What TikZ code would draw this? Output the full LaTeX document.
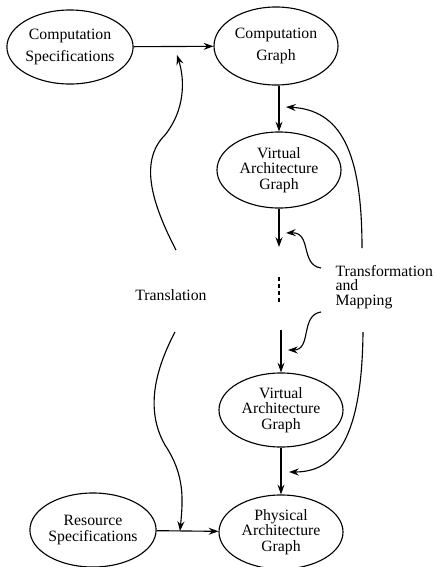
\documentclass[tikz,border=0pt]{standalone}
\usepackage{fontspec}
\setmainfont{Liberation Serif}
\usetikzlibrary{shapes.geometric, arrows.meta, positioning}

\begin{document}
\begin{tikzpicture}[
    x=0.025cm, y=-0.025cm,
    line width=0.8pt,
    font=\fontsize{11.2}{11.2}\selectfont,
    blob/.style={ellipse, draw, inner sep=0pt, minimum width=3.1cm, minimum height=1.85cm, align=center},
    wide/.style={font=\fontsize{11.2}{15}\selectfont},
    arrow/.style={-{Stealth[length=7pt, width=5pt, inset=2.5pt]}},
    label/.style={inner sep=0pt}
]
\useasboundingbox (0,0) rectangle (435,567);

% Top row
\node[blob, wide] (cspec) at (70,47) {Computation\\Specifications};
\node[blob, wide, minimum height=1.95cm] (cgraph) at (276,46) {Computation\\Graph};

% Right column
\node[blob, minimum height=1.9cm] (vagtop) at (279,170) {Virtual\\Architecture\\Graph};
\node[blob] (vagbot) at (281,410) {Virtual\\Architecture\\Graph};
\node[blob] (pag) at (281,532) {Physical\\Architecture\\Graph};

% Bottom left
\node[blob, minimum width=3.05cm] (rspec) at (93,530) {Resource\\Specifications};

% Labels
\node[label] (trans) at (171,295) {Translation};
\node[label, align=left, anchor=west, font=\fontsize{11.2}{10.2}\selectfont] (tmap) at (335,287) {Transformation\\and\\Mapping};

% Loose ends
\coordinate (gapA) at (279,247);
\coordinate (dotsA) at (279,277);
\coordinate (dotsB) at (279,305);
\coordinate (gapB) at (281,330);
\coordinate (trA) at (176,250);
\coordinate (trtip) at (177,55);
\coordinate (trB) at (175,332);
\coordinate (trbot) at (180,531);
\coordinate (tmA) at (321,268);
\coordinate (tmAtip) at (286,233);
\coordinate (tmB) at (321,312);
\coordinate (tmBtip) at (288,350);
\coordinate (tmC) at (362,248);
\coordinate (tmCtip) at (286,107);
\coordinate (tmD) at (363,332);
\coordinate (tmDtip) at (289,472);

% Main arrows
\draw[arrow] (cspec) -- (cgraph);
\draw[arrow] (vagtop.north |- cgraph.south) -- (vagtop.north);
\draw[arrow] (vagtop) -- (gapA);
\draw[dash pattern=on 3pt off 2pt] (dotsA) -- (dotsB);
\draw[arrow] (gapB) -- (vagbot);
\draw[arrow] (vagbot) -- (pag);
\draw[arrow] (rspec) -- (pag);

% Translation
\draw[arrow] (trA) .. controls (150,200) and (140,160) .. (165,135) .. controls (185,110) and (185,80) .. (trtip);
\draw[arrow] (trB) .. controls (155,370) and (145,410) .. (165,445) .. controls (185,475) and (183,500) .. (trbot);

% Transformation and Mapping
\draw[arrow] (tmA) .. controls (300,265) and (312,232) .. (tmAtip);
\draw[arrow] (tmB) .. controls (300,315) and (312,350) .. (tmBtip);
\draw[arrow] (tmC) .. controls (362,150) and (340,110) .. (tmCtip);
\draw[arrow] (tmD) .. controls (362,440) and (335,472) .. (tmDtip);

\end{tikzpicture}
\end{document}
